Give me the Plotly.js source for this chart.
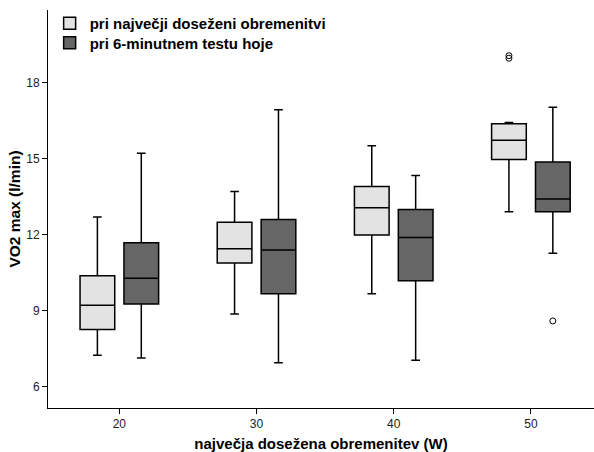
<!DOCTYPE html>
<html>
<head>
<meta charset="utf-8">
<script src="https://cdn.plot.ly/plotly-3.0.1.min.js"></script>
<style>html,body{margin:0;padding:0;background:#fff;}#chart{width:594px;height:452px;}</style>
</head>
<body>
<div id="chart"></div>
<script>
// Category labels (x axis)
const categories = ['20', '30', '40', '50'];

// Series 1: pri največji doseženi obremenitvi
const maxLoadLower  = [7.25, 8.87, 9.67, 12.90];
const maxLoadQ1     = [8.26, 10.88, 11.99, 14.96];
const maxLoadMedian = [9.22, 11.44, 13.06, 15.72];
const maxLoadQ3     = [10.38, 12.49, 13.90, 16.37];
const maxLoadUpper  = [12.69, 13.70, 15.50, 16.42];
const maxLoadOutlierCat = ['50', '50'];
const maxLoadOutlierVal = [18.95, 19.05];

// Series 2: pri 6-minutnem testu hoje
const walkLower  = [7.14, 6.95, 7.05, 11.27];
const walkQ1     = [9.27, 9.67, 10.18, 12.90];
const walkMedian = [10.28, 11.39, 11.89, 13.40];
const walkQ3     = [11.68, 12.60, 12.99, 14.86];
const walkUpper  = [15.21, 16.92, 14.33, 17.02];
const walkOutlierCat = ['50'];
const walkOutlierVal = [8.6];

const seriesNames = ['pri največji doseženi obremenitvi', 'pri 6-minutnem testu hoje'];
const tickValues = [6, 9, 12, 15, 18];

const BOXGAP = 0.36, BOXGROUPGAP = 0.21;
const catIndex = categories.map((c, i) => i);
const groupOffset = (s) => (-0.5 + (s + 0.5) / 2) * (1 - BOXGAP);
const toX = (cats, s) => cats.map(c => categories.indexOf(c) + groupOffset(s));

const font = 'Liberation Sans, Arial, sans-serif';

function boxTrace(name, lo, q1, med, q3, up, fill, legendId) {
  return {
    type: 'box', name: name, x: catIndex, legend: legendId,
    lowerfence: lo, q1: q1, median: med, q3: q3, upperfence: up,
    fillcolor: fill, line: {color: '#000', width: 1.5},
    whiskerwidth: 0.25, boxpoints: false, hoverinfo: 'skip'
  };
}
function outlierTrace(cats, vals, s) {
  return {
    type: 'scatter', mode: 'markers', x: toX(cats, s), y: vals,
    marker: {symbol: 'circle-open', size: 6, color: '#000', line: {width: 1}},
    showlegend: false, hoverinfo: 'skip'
  };
}

const data = [
  boxTrace(seriesNames[0], maxLoadLower, maxLoadQ1, maxLoadMedian, maxLoadQ3, maxLoadUpper, '#e3e3e3', 'legend'),
  boxTrace(seriesNames[1], walkLower, walkQ1, walkMedian, walkQ3, walkUpper, '#666666', 'legend2'),
  outlierTrace(maxLoadOutlierCat, maxLoadOutlierVal, 0),
  outlierTrace(walkOutlierCat, walkOutlierVal, 1)
];

const legendFont = {family: font, size: 15, color: '#000', weight: 'bold'};
const layout = {
  width: 594, height: 452,
  margin: {l: 48, r: 0, t: 10, b: 44},
  paper_bgcolor: '#fff', plot_bgcolor: '#fff',
  boxmode: 'group', boxgap: BOXGAP, boxgroupgap: BOXGROUPGAP,
  font: {family: font, size: 12, color: '#222'},
  showlegend: true,
  legend: {x: 0.003, y: 1.0075, xanchor: 'left', yanchor: 'top', bgcolor: 'rgba(0,0,0,0)', font: legendFont},
  legend2: {x: 0.003, y: 0.9585, xanchor: 'left', yanchor: 'top', bgcolor: 'rgba(0,0,0,0)', font: legendFont},
  xaxis: {
    range: [-0.52, 3.46], tickvals: catIndex, ticktext: categories,
    showgrid: false, zeroline: false, showline: true, linecolor: '#000', linewidth: 1,
    ticks: 'outside', ticklen: 5, tickcolor: '#000', tickfont: {size: 12, color: '#222'},
    title: {text: 'največja dosežena obremenitev (W)', font: {family: font, size: 15, color: '#000', weight: 'bold'}, standoff: 10}
  },
  yaxis: {
    range: [5.17, 20.85], tickvals: tickValues,
    showgrid: false, zeroline: false, showline: true, linecolor: '#000', linewidth: 1,
    ticks: 'outside', ticklen: 5, tickcolor: '#000', tickfont: {size: 12, color: '#222'},
    title: {text: 'VO2 max (l/min)', font: {family: font, size: 15.5, color: '#000', weight: 'bold'}, standoff: 1}
  }
};

Plotly.newPlot('chart', data, layout, {displayModeBar: false, staticPlot: true});
</script>
</body>
</html>
